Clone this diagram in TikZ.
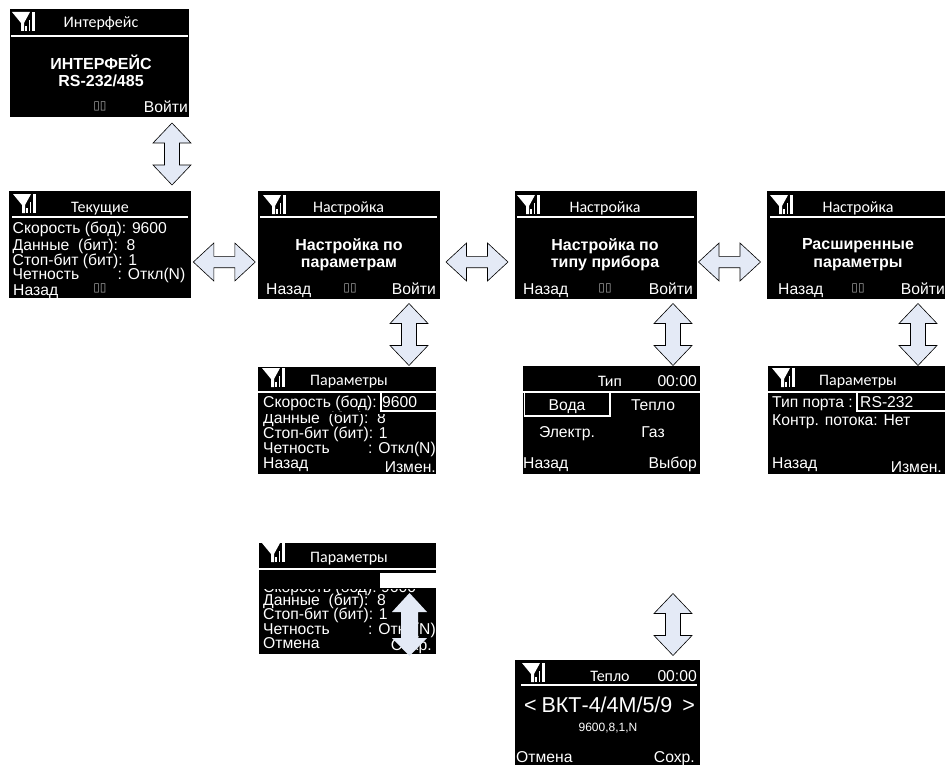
\documentclass[tikz,border=0pt]{standalone}
\usepackage{fontspec}
\setmainfont{Liberation Sans}
\newfontfamily\ttlfont{Carlito}
\newfontfamily\dvfont{DejaVu Sans}
\definecolor{arrowfill}{HTML}{E4EAF6}
\tikzset{
  screen/.style={fill=black,draw=none,inner sep=0pt,anchor=north west},
  txt/.style={text=white,inner sep=0pt,font=\fontsize{15.7}{15.7}\selectfont,anchor=base west},
  txe/.style={txt,anchor=base east},
  txc/.style={txt,anchor=base},
  ttl/.style={text=white,inner sep=0pt,font=\ttlfont\fontsize{16}{16}\selectfont,anchor=base},
  boldtx/.style={text=white,inner sep=0pt,font=\bfseries\fontsize{16}{17.5}\selectfont,align=center,anchor=center},
  tofu/.style={text=white!65!black,inner sep=0pt,font=\dvfont\fontsize{12}{12}\selectfont,anchor=center},
  rule/.style={draw=white,line width=1.6pt},
  arrowbox/.style={draw=black,line width=0.6pt,fill=arrowfill,line join=miter},
  varrow/.pic={\draw[arrowbox] (0,-31)--(19,-11)--(7.5,-11)--(7.5,11)--(19,11)--(0,31)--(-19,11)--(-7.5,11)--(-7.5,-11)--(-19,-11)--cycle;},
  harrow/.pic={\draw[arrowbox] (-31,0)--(-10.5,-19)--(-10.5,-5.7)--(10.5,-5.7)--(10.5,-19)--(31,0)--(10.5,19)--(10.5,5.7)--(-10.5,5.7)--(-10.5,19)--cycle;},
  sigicon/.pic={
    \fill[white] (0,0)--(18,0)--(12,11)--(12,19)--(9,19)--(9,11)--cycle;
    \fill[white] (13,14) rectangle (14.5,19);
    \fill[white] (16.5,8) rectangle (18,19);
    \fill[white] (20,0) rectangle (22.5,19);
  }
}
% name, left, top, right, bottom
\newcommand{\scr}[5]{%
  \pgfmathsetmacro{\scw}{#4-#2}\pgfmathsetmacro{\sch}{#5-#3}%
  \node[screen,minimum width=\scw pt,minimum height=\sch pt] (#1) at (#2,#3) {};}
\begin{document}
\begin{tikzpicture}[x=1pt,y=-1pt]
\useasboundingbox (0,0) rectangle (945,765);
% ---------- arrows first
\pic at (172,154) {varrow};
\pic at (409,334.5) {varrow};
\pic at (673,334.5) {varrow};
\pic at (918,334.5) {varrow};
\pic at (673,624.5) {varrow};
\pic at (224.3,262) {harrow};
\pic at (477,262) {harrow};
\pic at (729.5,262) {harrow};
% ---------- S1
\scr{sa}{10}{9}{189}{117}
\pic at (12,12) {sigicon};
\draw[rule] (11,36) -- (188,36);
\node[ttl] (sa1) at (101,28) {Интерфейс};
\node[boldtx] (sa2) at (101,71) {ИНТЕРФЕЙС\\RS-232/485};
\node[tofu] (sa3) at (100,106) {▯▯};
\node[txe] (sa4) at (188,113) {Войти};
% ---------- S2
\scr{sb}{9}{191}{191}{298}
\pic at (13,194) {sigicon};
\draw[rule] (12,217) -- (188,217);
\node[ttl] (sb1) at (100,212) {Текущие};
\node[txt] (sb2) at (12.5,233.5) {Скорость (бод): 9600};
\node[txt] (sb3) at (12.5,250) {Данные\ \ (бит):\ \ 8};
\node[txt] (sb4) at (12.5,265.5) {Стоп-бит (бит): 1};
\node[txt] (sb5) at (12.5,279.5) {Четность};
\node[txe] (sb6) at (185.5,279.5) {: Откл(N)};
\node[txt] (sb7) at (13,295) {Назад};
\node[tofu] (sb8) at (100,288) {▯▯};
% ---------- S3
\scr{sc}{258}{191}{440}{299}
\pic at (263,195) {sigicon};
\draw[rule] (260,217) -- (437,217);
\node[ttl] (sc1) at (348.5,212) {Настройка};
\node[boldtx] (sc2) at (349,254.5) {Настройка по\\параметрам};
\node[txt] (sc3) at (266,294) {Назад};
\node[tofu] (sc4) at (350,288) {▯▯};
\node[txe] (sc5) at (436,294) {Войти};
% ---------- S5
\scr{sd}{515}{191}{697}{299}
\pic at (517,195) {sigicon};
\draw[rule] (517,217) -- (694,217);
\node[ttl] (sd1) at (605,212) {Настройка};
\node[boldtx] (sd2) at (605,254.5) {Настройка по\\типу прибора};
\node[txt] (sd3) at (523,294) {Назад};
\node[tofu] (sd4) at (605,288) {▯▯};
\node[txe] (sd5) at (693,294) {Войти};
% ---------- S6
\scr{se}{767}{191}{945}{299}
\pic at (770,195) {sigicon};
\draw[rule] (770,217) -- (945,217);
\node[ttl] (se1) at (858,212) {Настройка};
\node[boldtx] (se2) at (858,254.5) {Расширенные\\параметры};
\node[txt] (se3) at (778,294) {Назад};
\node[tofu] (se4) at (858,288) {▯▯};
\node[txe] (se5) at (945,294) {Войти};
% ---------- S4
\scr{sf}{258}{367}{436}{474}
\pic at (262,368) {sigicon};
\node[ttl] (sf1) at (349,385) {Параметры};
\node[txt] (sf2) at (263,407) {Скорость (бод):};
\node[txt] (sf3) at (382,407) {9600};
\node[txt] (sf4) at (263,423) {Данные\ \ (бит):\ \ 8};
\fill[black] (258,412) rectangle (436,413.5);
\draw[white,line width=2pt] (258,392) -- (436,392) (380.5,392) -- (380.5,411) -- (436,411);
\node[txt] (sf5) at (263,438.5) {Стоп-бит (бит): 1};
\node[txt] (sf6) at (263,453) {Четность};
\node[txe] (sf7) at (436,453) {: Откл(N)};
\node[txt] (sf8) at (263,468) {Назад};
\node[txe] (sf9) at (436,472) {Измен.};
% ---------- S7
\scr{sg}{523}{366}{700}{474}
\node[ttl] (sg1) at (610,386.5) {Тип};
\node[txe] (sg2) at (697,386.5) {00:00};
\fill[white] (523,391) rectangle (700,393);
\draw[white,line width=1.8pt] (524.5,392) -- (524.5,416) -- (610,416) -- (610,392);
\node[txc] (sg3) at (567,410.5) {Вода};
\node[txc] (sg4) at (653,410.5) {Тепло};
\node[txc] (sg5) at (567,437.5) {Электр.};
\node[txc] (sg6) at (653,437.5) {Газ};
\node[txt] (sg7) at (523,468.5) {Назад};
\node[txe] (sg8) at (697,468.5) {Выбор};
% ---------- S8
\scr{sh}{768}{366}{945}{474}
\pic at (772,368) {sigicon};
\node[ttl] (sh1) at (858,385) {Параметры};
\draw[white,line width=2pt] (768,392) -- (945,392) (857,392) -- (857,411) -- (945,411);
\node[txt] (sh2) at (772,407) {Тип порта :};
\node[txt] (sh3) at (860,407) {RS-232};
\node[txt] (sh4) at (772,425.5) {Контр. потока: Нет};
\node[txt] (sh5) at (772,468) {Назад};
\node[txe] (sh6) at (942,472) {Измен.};
% ---------- S9
\scr{si}{259}{543}{436}{654}
\pic at (262,543) {sigicon};
\node[ttl] (si1) at (349,562) {Параметры};
\node[txt] (si2) at (263,592) {Скорость (бод):\ 9600};
\fill[black] (259,570) rectangle (436,589);
\fill[white] (259,567.5) rectangle (436,570);
\fill[white] (380,573) rectangle (437,588);
\node[txt] (si3) at (263,605) {Данные\ \ (бит):\ \ 8};
\node[txt] (si4) at (263,619) {Стоп-бит (бит): 1};
\node[txt] (si5) at (263,634) {Четность};
\node[txe] (si6) at (436,634) {: Откл(N)};
\node[txt] (si7) at (263,648) {Отмена};
\node[txe] (si8) at (432,650) {Сохр.};
\fill[arrowfill] (409.5,593)--(427,612)--(418,612)--(418,638)--(427,638)--(409.5,656)--(392,638)--(401,638)--(401,612)--(392,612)--cycle;
% ---------- S10
\scr{sj}{515}{660}{700}{765}
\pic at (522,663) {sigicon};
\draw[rule] (521,685) -- (697,685);
\node[ttl] (sj1) at (610,681) {Тепло};
\node[txe] (sj2) at (697,681) {00:00};
\node[txt,font=\fontsize{21.5}{21.5}\selectfont] (sj3) at (524,712) {<};
\node[txc,font=\fontsize{21.5}{21.5}\selectfont] (sj4) at (607,712) {ВКТ-4/4М/5/9};
\node[txe,font=\fontsize{21.5}{21.5}\selectfont] (sj5) at (695,712) {>};
\node[txc,font=\fontsize{12}{12}\selectfont] (sj6) at (608,731) {9600,8,1,N};
\node[txt] (sj7) at (516,762) {Отмена};
\node[txe] (sj8) at (695,762) {Сохр.};
\end{tikzpicture}
\end{document}
